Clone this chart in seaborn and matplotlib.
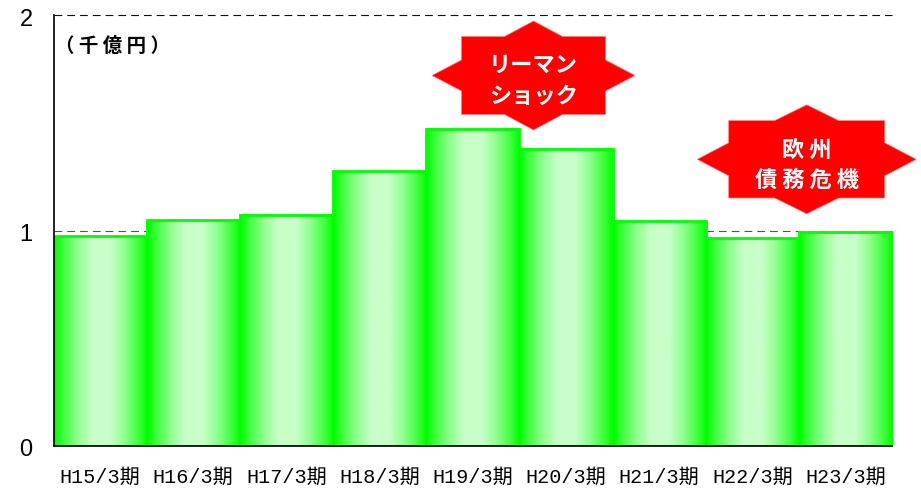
import numpy as np
import pandas as pd
import seaborn as sns
import matplotlib.pyplot as plt
from matplotlib.colors import LinearSegmentedColormap
from matplotlib.patches import Polygon
from matplotlib.transforms import ScaledTranslation

periods = ["H15/3期", "H16/3期", "H17/3期", "H18/3期", "H19/3期",
           "H20/3期", "H21/3期", "H22/3期", "H23/3期"]
values = [0.975, 1.048, 1.075, 1.277, 1.473, 1.38, 1.045, 0.966, 0.995]
yticks = [0, 1, 2]

sns.set_theme(style="white")
plt.rcParams['font.family'] = ['Noto Sans CJK JP', 'DejaVu Sans']

W, H = 921, 488
fig = plt.figure(figsize=(W / 100, H / 100), dpi=100)
ax = fig.add_axes([53.5 / W, 1 - 446 / H, (892 - 53.5) / W, (446 - 15.5) / H])

df = pd.DataFrame({"period": periods, "value": values})
sns.barplot(data=df, x="period", y="value", width=1.0, ax=ax, zorder=3,
            color="#00ff00", saturation=1, edgecolor="#00ff00", linewidth=2)

# gradient fill, clipped to each bar
cmap = LinearSegmentedColormap.from_list(
    "barfill", [(0, "#00ff00"), (0.1, "#40ff40"), (0.25, "#90ff90"), (0.4, "#c8ffc8"),
                (0.6, "#c8ffc8"), (0.75, "#90ff90"), (0.9, "#40ff40"), (1, "#00ff00")])
grad = np.linspace(0, 1, 128).reshape(1, -1)
for bar in ax.patches:
    x0, w, h = bar.get_x(), bar.get_width(), bar.get_height()
    ax.imshow(grad, cmap=cmap, aspect="auto", zorder=3.5,
              extent=[x0, x0 + w, 0, h], interpolation="bilinear")
    bar.set_facecolor("none")
    bar.set_zorder(4)
ax.set_xlim(-0.5, 8.5)
ax.set_ylim(0, 2)

ax.set_xlabel("")
ax.set_ylabel("")
ax.set_yticks(yticks)
ax.set_yticklabels([str(t) for t in yticks], fontsize=17, family="Liberation Sans", color="black")
ax.set_xticks(range(len(periods)))
ax.set_xticklabels(periods, fontsize=14.5, color="black",
                   family=["Liberation Mono", "Noto Sans CJK JP"])
ax.set_xticks(np.arange(0.5, 9), minor=True)
ax.tick_params(axis="x", which="major", length=0, pad=16)
ax.tick_params(axis="x", which="minor", length=5, width=1, direction="in", color="black", bottom=True)
ax.tick_params(axis="y", which="major", length=0, pad=15)
for t in ax.get_yticklabels():
    t.set_transform(t.get_transform() + ScaledTranslation(0, -2 / 100, fig.dpi_scale_trans))

ax.grid(False)
for v, c in zip(yticks[1:], ["#555555", "#111111"]):
    ax.axhline(v, color=c, lw=0.8, ls=(0, (7, 4.5)), zorder=2, clip_on=False)
for s in ["top", "right"]:
    ax.spines[s].set_visible(False)
for s in ["left", "bottom"]:
    ax.spines[s].set_visible(True)
    ax.spines[s].set_color("black")
    ax.spines[s].set_linewidth(1.2)
    ax.spines[s].set_zorder(5)

ax.text(55 / W, 1 - 46 / H, "（ 千 億 円 ）", transform=fig.transFigure, fontsize=14,
        fontweight="bold", color="black", va="center", ha="left")


def burst(cx, cy, hw, hh, rw, rh, iw, ih):
    # eight pointed callout, sizes in figure pixels
    pts = [(cx, cy - hh), (cx + iw, cy - rh), (cx + rw, cy - rh), (cx + rw, cy - ih),
           (cx + hw, cy), (cx + rw, cy + ih), (cx + rw, cy + rh), (cx + iw, cy + rh),
           (cx, cy + hh), (cx - iw, cy + rh), (cx - rw, cy + rh), (cx - rw, cy + ih),
           (cx - hw, cy), (cx - rw, cy - ih), (cx - rw, cy - rh), (cx - iw, cy - rh)]
    pts = [(x / W, 1 - y / H) for x, y in pts]
    fig.add_artist(Polygon(pts, closed=True, transform=fig.transFigure,
                           facecolor="#ff0000", edgecolor="#ff8080", lw=0.5, zorder=8))


burst(533.5, 75.5, 101.5, 54.5, 72, 39, 29, 15.5)
burst(806.7, 159.3, 109.5, 54.5, 78, 38.7, 32, 16.5)

labels = [(533.5, 65, "リーマン"), (533.5, 96, "ショック"),
          (806.7, 150, "欧 州"), (806.7, 180, "債 務 危 機")]
for x, y, s in labels:
    fig.text(x / W, 1 - y / H, s, color="white", fontsize=16, fontweight="bold",
             ha="center", va="center", zorder=9)

fig.savefig("out.png", dpi=100)
